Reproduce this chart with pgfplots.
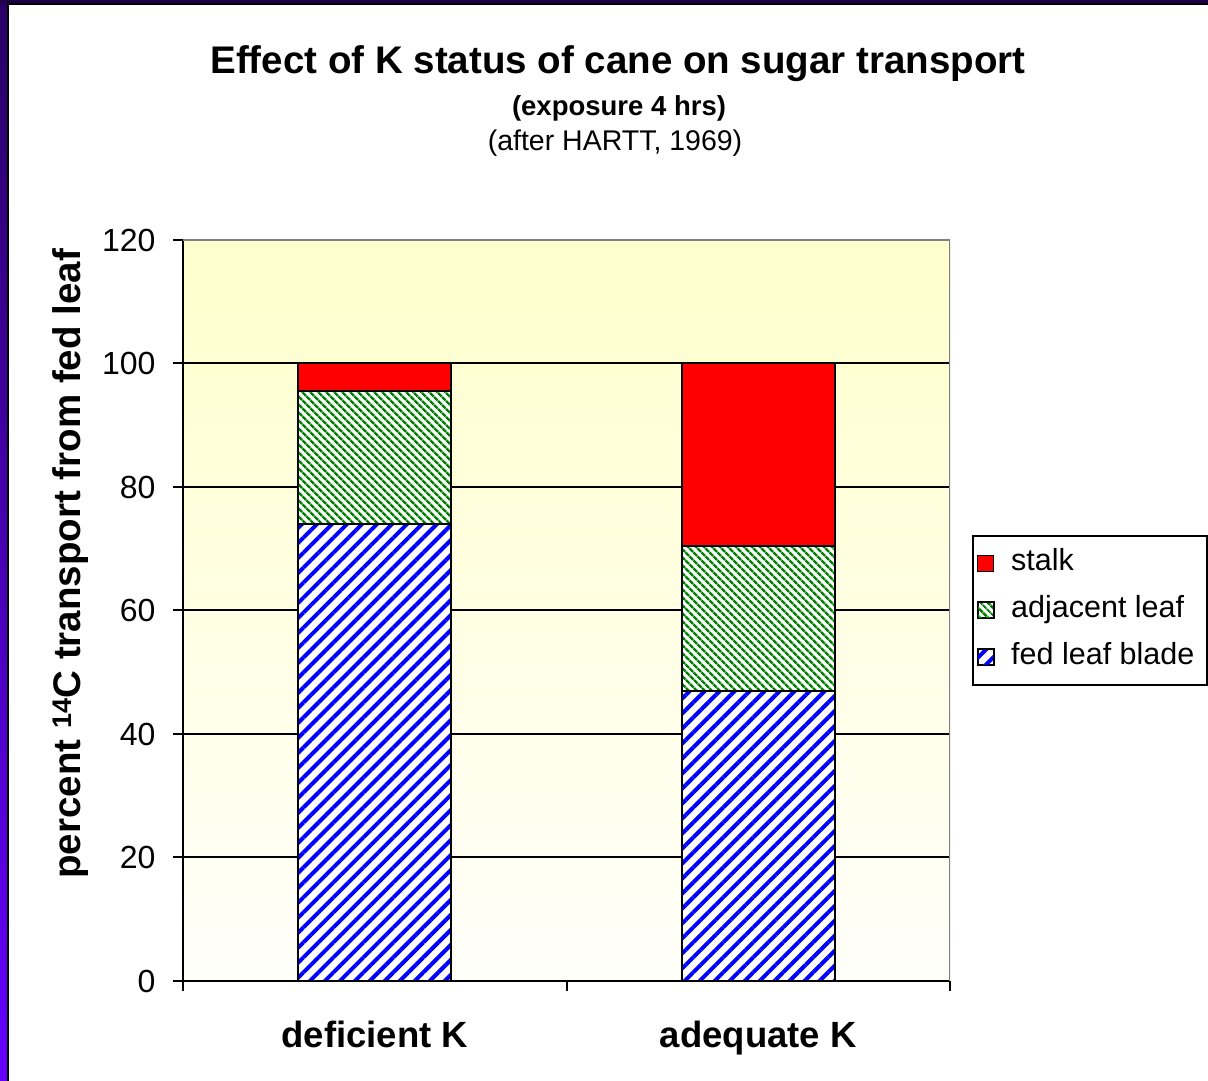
\documentclass[border=0pt]{standalone}
\usepackage{fontspec}
\setmainfont{Liberation Sans}
\usepackage{pgfplots}
\pgfplotsset{compat=1.18}
\usetikzlibrary{patterns.meta}
\definecolor{plottop}{RGB}{255,255,204}
\definecolor{plotbot}{RGB}{255,255,250}
\definecolor{frametop}{RGB}{40,0,100}
\definecolor{framebot}{RGB}{102,0,255}
\definecolor{darkband}{RGB}{30,0,70}
\definecolor{greyline}{RGB}{128,128,128}
\definecolor{hgreen}{RGB}{0,128,0}
\begin{document}
\begin{tikzpicture}
\useasboundingbox (0,0) rectangle (1208pt,1081pt);
\fill[white] (0,0) rectangle (1208pt,1081pt);
\shade[top color=frametop, bottom color=framebot] (0,0) rectangle (7pt,1081pt);
\fill[darkband] (0,1078pt) rectangle (1208pt,1081pt);
\draw[black, line width=2pt] (8pt,0) -- (8pt,1077pt) -- (1208pt,1077pt);
\begin{axis}[
  at={(183pt,100pt)}, anchor=south west,
  scale only axis, width=767pt, height=741pt,
  xmin=0, xmax=2, ymin=0, ymax=120,
  ybar stacked, bar width=153pt,
  axis background/.style={top color=plottop, bottom color=plotbot},
  axis x line*=bottom, axis y line*=left,
  axis line style={black, line width=2pt},
  tick align=outside, major tick length=10pt,
  tick style={black, line width=2pt},
  ytick={0,20,...,120},
  ymajorgrids, grid style={black, line width=2pt},
  xtick={0,1,2}, xticklabels={,,},
  extra x ticks={0.5,1.5},
  extra x tick labels={deficient K, adequate K},
  extra x tick style={major tick length=0pt, grid=none},
  /pgf/number format/assume math mode=true,
  yticklabel style={font=\fontsize{32}{38}\selectfont, xshift=-14pt},
  xticklabel style={font=\fontsize{36.5}{42}\selectfont\bfseries, yshift=-37pt},
  ylabel={percent \textsuperscript{14}C transport from fed leaf},
  ylabel style={at={(rel axis cs:-0.147,0.563)}, anchor=center, font=\fontsize{38.5}{46}\selectfont\bfseries},
  reverse legend,
  legend cell align=left,
  legend style={at={(rel axis cs:1.0287,0.6019)}, anchor=north west,
    draw=black, line width=2pt, inner sep=4pt, row sep=0pt, column sep=13pt,
    nodes={inner xsep=4pt, inner ysep=9.5pt, text height=21pt, text depth=7pt},
    font=\fontsize{30.5}{36}\selectfont},
  legend image code/.code={\draw[#1, line width=1.2pt] (0pt,-8pt) rectangle (16pt,8pt);},
]
\addplot[draw=black, line width=2pt, preaction={fill=white},
  pattern={Lines[angle=45, distance=10.6pt, line width=4pt]}, pattern color=blue]
  coordinates {(0.5,74) (1.5,47)};
\addlegendentry{\makebox[188pt][l]{fed leaf blade}}
\addplot[draw=black, line width=2pt, preaction={fill=white},
  pattern={Lines[angle=-45, distance=5.4pt, line width=2.6pt]}, pattern color=hgreen]
  coordinates {(0.5,21.5) (1.5,23.5)};
\addlegendentry{\makebox[188pt][l]{adjacent leaf}}
\addplot[draw=black, line width=2pt, fill=red]
  coordinates {(0.5,4.5) (1.5,29.5)};
\addlegendentry{\makebox[188pt][l]{stalk}}
\draw[greyline, line width=2pt] (rel axis cs:0,1) -- (rel axis cs:1,1) -- (rel axis cs:1,0);
\end{axis}
\node[anchor=base, font=\fontsize{38.5}{46}\selectfont\bfseries] at (618pt,1007pt) {Effect of K status of cane on sugar transport};
\node[anchor=base, font=\fontsize{27.5}{33}\selectfont\bfseries] at (619pt,965pt) {(exposure 4 hrs)};
\node[anchor=base, font=\fontsize{28.5}{34}\selectfont] at (615pt,930pt) {(after HARTT, 1969)};
\end{tikzpicture}
\end{document}
